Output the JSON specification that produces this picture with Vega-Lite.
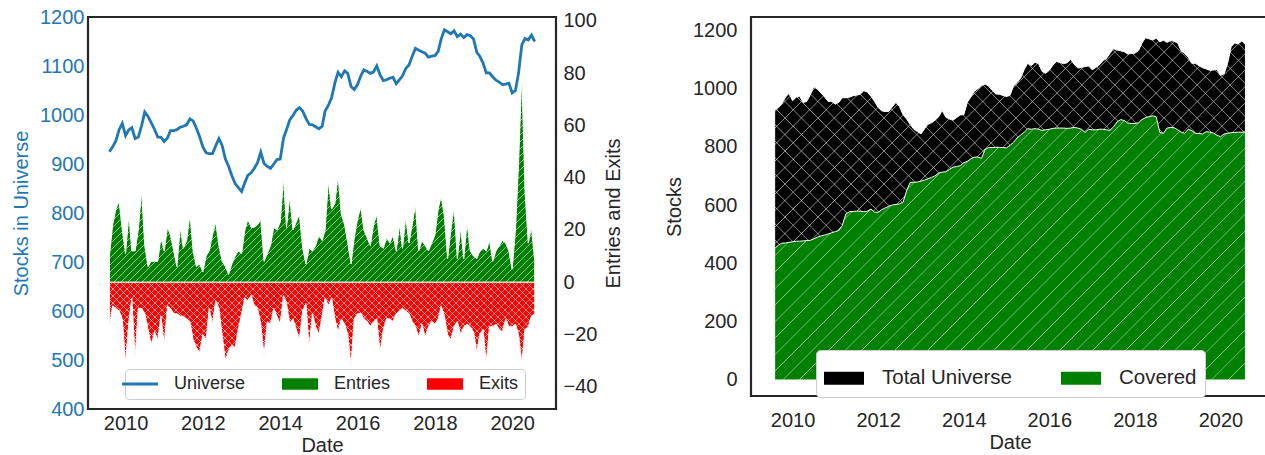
{
"$schema": "https://vega.github.io/schema/vega-lite/v6.json",
"padding": {"left": 10, "top": 5, "right": 0, "bottom": 0},
"background": "white",
"data": {"values": [
{"date":"2009-08-01","universe":925,"entries":10,"exits":-17,"covered":451},
{"date":"2009-09-01","universe":935,"entries":22,"exits":-9,"covered":462},
{"date":"2009-10-01","universe":947,"entries":28,"exits":-10,"covered":469},
{"date":"2009-11-01","universe":970,"entries":31,"exits":-11,"covered":470},
{"date":"2009-12-01","universe":983,"entries":20,"exits":-14,"covered":472},
{"date":"2010-01-01","universe":958,"entries":11,"exits":-31,"covered":474},
{"date":"2010-02-01","universe":970,"entries":26,"exits":-15,"covered":476},
{"date":"2010-03-01","universe":974,"entries":12,"exits":-6,"covered":476},
{"date":"2010-04-01","universe":952,"entries":12,"exits":-29,"covered":477},
{"date":"2010-05-01","universe":955,"entries":20,"exits":-10,"covered":478},
{"date":"2010-06-01","universe":978,"entries":35,"exits":-10,"covered":479},
{"date":"2010-07-01","universe":1006,"entries":14,"exits":-12,"covered":484},
{"date":"2010-08-01","universe":997,"entries":6,"exits":-18,"covered":490},
{"date":"2010-09-01","universe":984,"entries":8,"exits":-24,"covered":494},
{"date":"2010-10-01","universe":971,"entries":8,"exits":-19,"covered":497},
{"date":"2010-11-01","universe":955,"entries":8,"exits":-22,"covered":501},
{"date":"2010-12-01","universe":955,"entries":17,"exits":-13,"covered":505},
{"date":"2011-01-01","universe":946,"entries":12,"exits":-24,"covered":509},
{"date":"2011-02-01","universe":953,"entries":21,"exits":-9,"covered":513},
{"date":"2011-03-01","universe":968,"entries":18,"exits":-10,"covered":530},
{"date":"2011-04-01","universe":968,"entries":12,"exits":-12,"covered":570},
{"date":"2011-05-01","universe":970,"entries":6,"exits":-12,"covered":577},
{"date":"2011-06-01","universe":975,"entries":21,"exits":-13,"covered":578},
{"date":"2011-07-01","universe":977,"entries":13,"exits":-13,"covered":579},
{"date":"2011-08-01","universe":980,"entries":16,"exits":-14,"covered":579},
{"date":"2011-09-01","universe":992,"entries":26,"exits":-15,"covered":577},
{"date":"2011-10-01","universe":988,"entries":12,"exits":-22,"covered":579},
{"date":"2011-11-01","universe":973,"entries":6,"exits":-25,"covered":586},
{"date":"2011-12-01","universe":956,"entries":7,"exits":-27,"covered":576},
{"date":"2012-01-01","universe":935,"entries":4,"exits":-20,"covered":575},
{"date":"2012-02-01","universe":923,"entries":10,"exits":-22,"covered":584},
{"date":"2012-03-01","universe":921,"entries":12,"exits":-10,"covered":590},
{"date":"2012-04-01","universe":921,"entries":18,"exits":-16,"covered":596},
{"date":"2012-05-01","universe":937,"entries":23,"exits":-7,"covered":600},
{"date":"2012-06-01","universe":952,"entries":14,"exits":-10,"covered":602},
{"date":"2012-07-01","universe":938,"entries":8,"exits":-20,"covered":604},
{"date":"2012-08-01","universe":910,"entries":6,"exits":-30,"covered":610},
{"date":"2012-09-01","universe":895,"entries":3,"exits":-26,"covered":650},
{"date":"2012-10-01","universe":876,"entries":7,"exits":-24,"covered":678},
{"date":"2012-11-01","universe":860,"entries":10,"exits":-25,"covered":678},
{"date":"2012-12-01","universe":852,"entries":12,"exits":-18,"covered":679},
{"date":"2013-01-01","universe":844,"entries":11,"exits":-12,"covered":682},
{"date":"2013-02-01","universe":862,"entries":20,"exits":-6,"covered":686},
{"date":"2013-03-01","universe":877,"entries":24,"exits":-7,"covered":690},
{"date":"2013-04-01","universe":882,"entries":21,"exits":-5,"covered":695},
{"date":"2013-05-01","universe":891,"entries":21,"exits":-9,"covered":700},
{"date":"2013-06-01","universe":903,"entries":22,"exits":-10,"covered":710},
{"date":"2013-07-01","universe":924,"entries":24,"exits":-16,"covered":713},
{"date":"2013-08-01","universe":901,"entries":8,"exits":-28,"covered":714},
{"date":"2013-09-01","universe":895,"entries":11,"exits":-15,"covered":722},
{"date":"2013-10-01","universe":891,"entries":14,"exits":-16,"covered":730},
{"date":"2013-11-01","universe":900,"entries":21,"exits":-10,"covered":732},
{"date":"2013-12-01","universe":909,"entries":20,"exits":-13,"covered":735},
{"date":"2014-01-01","universe":910,"entries":23,"exits":-16,"covered":745},
{"date":"2014-02-01","universe":953,"entries":40,"exits":-5,"covered":750},
{"date":"2014-03-01","universe":970,"entries":21,"exits":-8,"covered":758},
{"date":"2014-04-01","universe":990,"entries":33,"exits":-16,"covered":764},
{"date":"2014-05-01","universe":999,"entries":20,"exits":-14,"covered":765},
{"date":"2014-06-01","universe":1010,"entries":23,"exits":-18,"covered":760},
{"date":"2014-07-01","universe":1015,"entries":26,"exits":-22,"covered":790},
{"date":"2014-08-01","universe":1008,"entries":13,"exits":-11,"covered":797},
{"date":"2014-09-01","universe":993,"entries":7,"exits":-8,"covered":797},
{"date":"2014-10-01","universe":981,"entries":13,"exits":-25,"covered":798},
{"date":"2014-11-01","universe":980,"entries":12,"exits":-12,"covered":798},
{"date":"2014-12-01","universe":976,"entries":14,"exits":-17,"covered":797},
{"date":"2015-01-01","universe":972,"entries":18,"exits":-20,"covered":796},
{"date":"2015-02-01","universe":977,"entries":16,"exits":-13,"covered":805},
{"date":"2015-03-01","universe":1008,"entries":20,"exits":-6,"covered":815},
{"date":"2015-04-01","universe":1020,"entries":39,"exits":-9,"covered":830},
{"date":"2015-05-01","universe":1035,"entries":28,"exits":-6,"covered":840},
{"date":"2015-06-01","universe":1065,"entries":30,"exits":-14,"covered":850},
{"date":"2015-07-01","universe":1087,"entries":41,"exits":-19,"covered":862},
{"date":"2015-08-01","universe":1078,"entries":26,"exits":-14,"covered":860},
{"date":"2015-09-01","universe":1090,"entries":22,"exits":-16,"covered":862},
{"date":"2015-10-01","universe":1085,"entries":15,"exits":-20,"covered":860},
{"date":"2015-11-01","universe":1058,"entries":7,"exits":-32,"covered":856},
{"date":"2015-12-01","universe":1052,"entries":17,"exits":-14,"covered":858},
{"date":"2016-01-01","universe":1062,"entries":24,"exits":-12,"covered":860},
{"date":"2016-02-01","universe":1080,"entries":29,"exits":-12,"covered":863},
{"date":"2016-03-01","universe":1092,"entries":20,"exits":-14,"covered":864},
{"date":"2016-04-01","universe":1089,"entries":17,"exits":-15,"covered":864},
{"date":"2016-05-01","universe":1085,"entries":14,"exits":-17,"covered":864},
{"date":"2016-06-01","universe":1088,"entries":22,"exits":-15,"covered":863},
{"date":"2016-07-01","universe":1100,"entries":26,"exits":-14,"covered":864},
{"date":"2016-08-01","universe":1082,"entries":14,"exits":-27,"covered":866},
{"date":"2016-09-01","universe":1070,"entries":13,"exits":-18,"covered":864},
{"date":"2016-10-01","universe":1072,"entries":17,"exits":-14,"covered":860},
{"date":"2016-11-01","universe":1075,"entries":15,"exits":-14,"covered":849},
{"date":"2016-12-01","universe":1077,"entries":18,"exits":-15,"covered":860},
{"date":"2017-01-01","universe":1064,"entries":12,"exits":-12,"covered":858},
{"date":"2017-02-01","universe":1072,"entries":22,"exits":-11,"covered":858},
{"date":"2017-03-01","universe":1080,"entries":13,"exits":-10,"covered":860},
{"date":"2017-04-01","universe":1095,"entries":25,"exits":-11,"covered":860},
{"date":"2017-05-01","universe":1102,"entries":15,"exits":-12,"covered":858},
{"date":"2017-06-01","universe":1120,"entries":22,"exits":-15,"covered":856},
{"date":"2017-07-01","universe":1136,"entries":30,"exits":-17,"covered":868},
{"date":"2017-08-01","universe":1132,"entries":12,"exits":-21,"covered":885},
{"date":"2017-09-01","universe":1129,"entries":16,"exits":-16,"covered":893},
{"date":"2017-10-01","universe":1126,"entries":14,"exits":-21,"covered":890},
{"date":"2017-11-01","universe":1118,"entries":12,"exits":-17,"covered":881},
{"date":"2017-12-01","universe":1120,"entries":15,"exits":-15,"covered":880},
{"date":"2018-01-01","universe":1121,"entries":18,"exits":-16,"covered":880},
{"date":"2018-02-01","universe":1130,"entries":28,"exits":-14,"covered":882},
{"date":"2018-03-01","universe":1155,"entries":33,"exits":-9,"covered":893},
{"date":"2018-04-01","universe":1174,"entries":25,"exits":-13,"covered":900},
{"date":"2018-05-01","universe":1170,"entries":9,"exits":-20,"covered":903},
{"date":"2018-06-01","universe":1166,"entries":20,"exits":-22,"covered":906},
{"date":"2018-07-01","universe":1172,"entries":29,"exits":-17,"covered":903},
{"date":"2018-08-01","universe":1160,"entries":9,"exits":-15,"covered":849},
{"date":"2018-09-01","universe":1165,"entries":21,"exits":-20,"covered":846},
{"date":"2018-10-01","universe":1158,"entries":9,"exits":-17,"covered":864},
{"date":"2018-11-01","universe":1164,"entries":23,"exits":-16,"covered":866},
{"date":"2018-12-01","universe":1162,"entries":12,"exits":-17,"covered":865},
{"date":"2019-01-01","universe":1155,"entries":10,"exits":-19,"covered":858},
{"date":"2019-02-01","universe":1128,"entries":9,"exits":-27,"covered":850},
{"date":"2019-03-01","universe":1120,"entries":12,"exits":-20,"covered":846},
{"date":"2019-04-01","universe":1106,"entries":13,"exits":-18,"covered":860},
{"date":"2019-05-01","universe":1086,"entries":12,"exits":-31,"covered":855},
{"date":"2019-06-01","universe":1086,"entries":16,"exits":-17,"covered":846},
{"date":"2019-07-01","universe":1078,"entries":8,"exits":-17,"covered":845},
{"date":"2019-08-01","universe":1071,"entries":12,"exits":-16,"covered":844},
{"date":"2019-09-01","universe":1067,"entries":14,"exits":-18,"covered":852},
{"date":"2019-10-01","universe":1062,"entries":16,"exits":-19,"covered":850},
{"date":"2019-11-01","universe":1063,"entries":15,"exits":-14,"covered":847},
{"date":"2019-12-01","universe":1065,"entries":12,"exits":-17,"covered":840},
{"date":"2020-01-01","universe":1045,"entries":5,"exits":-17,"covered":834},
{"date":"2020-02-01","universe":1050,"entries":20,"exits":-16,"covered":844},
{"date":"2020-03-01","universe":1085,"entries":45,"exits":-20,"covered":846},
{"date":"2020-04-01","universe":1143,"entries":80,"exits":-31,"covered":848},
{"date":"2020-05-01","universe":1156,"entries":35,"exits":-18,"covered":849},
{"date":"2020-06-01","universe":1153,"entries":15,"exits":-17,"covered":850},
{"date":"2020-07-01","universe":1163,"entries":21,"exits":-13,"covered":850},
{"date":"2020-08-01","universe":1150,"entries":8,"exits":-12,"covered":851}
]},
"spacing": 37,
"hconcat": [
{
 "width": 468, "height": 392,
 "layer": [
  {"layer": [
   {"mark": {"type": "area", "stroke": "white", "strokeWidth": 1, "opacity": 1},
    "encoding": {
     "x": {"field": "date", "type": "temporal", "scale": {"domain": ["2009-01-11", "2021-02-18"]}, "axis": {"values": ["2010-01-01", "2012-01-01", "2014-01-01", "2016-01-01", "2018-01-01", "2020-01-01"], "format": "%Y", "title": "Date", "labelPadding": 4, "titlePadding": 2}},
     "y": {"field": "entries", "type": "quantitative", "stack": null, "scale": {"domain": [-48.5, 101.5], "nice": false, "zero": false}, "axis": {"orient": "right", "title": "Entries and Exits", "format": "d", "values": [-40, -20, 0, 20, 40, 60, 80, 100], "labelPadding": 7, "titlePadding": 7, "titleAngle": 270, "titleBaseline": "top"}},
     "color": {"datum": "Entries", "type": "nominal", "scale": {"domain": ["Universe", "Entries", "Exits"], "range": ["#1f77b4", "#008000", "#ff0000"]},
      "legend": {"title": null, "orient": "none", "legendX": 37, "legendY": 352, "direction": "horizontal", "columns": 3, "labelFontSize": 18, "symbolType": "M-1,-0.32H1V0.32H-1Z", "symbolSize": 1296, "labelOffset": 25, "columnPadding": 36, "padding": 6, "fillColor": "white", "strokeColor": "#cccccc", "cornerRadius": 4, "labelColor": "#262626", "symbolStrokeWidth": 0, "symbolOpacity": 1,
       "encoding": {"symbols": {
        "shape": {"value": {"expr": "datum.value === 'Universe' ? 'stroke' : 'M-1,-0.32H1V0.32H-1Z'"}},
        "fill": {"value": {"expr": "datum.value === 'Universe' ? 'transparent' : (datum.value === 'Entries' ? '#008000' : '#ff0000')"}},
        "stroke": {"value": {"expr": "datum.value === 'Universe' ? '#1f77b4' : 'transparent'"}},
        "strokeWidth": {"value": {"expr": "datum.value === 'Universe' ? 3 : 0"}}
       }}}}
    }},
   {"mark": {"type": "area", "strokeWidth": 0, "opacity": 1,
     "fill": {"gradient": "linear", "x1": 0, "y1": 0, "x2": 1.2013, "y2": 0.5906, "stops": [
{"offset":0.0043,"color":"#fff0"},{"offset":0.0055,"color":"#fff9"},{"offset":0.0067,"color":"#fff0"},
{"offset":0.0154,"color":"#fff0"},{"offset":0.0166,"color":"#fff9"},{"offset":0.0178,"color":"#fff0"},
{"offset":0.0264,"color":"#fff0"},{"offset":0.0276,"color":"#fff9"},{"offset":0.0288,"color":"#fff0"},
{"offset":0.0374,"color":"#fff0"},{"offset":0.0386,"color":"#fff9"},{"offset":0.0398,"color":"#fff0"},
{"offset":0.0485,"color":"#fff0"},{"offset":0.0497,"color":"#fff9"},{"offset":0.0509,"color":"#fff0"},
{"offset":0.0595,"color":"#fff0"},{"offset":0.0607,"color":"#fff9"},{"offset":0.0619,"color":"#fff0"},
{"offset":0.0705,"color":"#fff0"},{"offset":0.0717,"color":"#fff9"},{"offset":0.0729,"color":"#fff0"},
{"offset":0.0816,"color":"#fff0"},{"offset":0.0828,"color":"#fff9"},{"offset":0.0840,"color":"#fff0"},
{"offset":0.0926,"color":"#fff0"},{"offset":0.0938,"color":"#fff9"},{"offset":0.0950,"color":"#fff0"},
{"offset":0.1036,"color":"#fff0"},{"offset":0.1048,"color":"#fff9"},{"offset":0.1060,"color":"#fff0"},
{"offset":0.1147,"color":"#fff0"},{"offset":0.1159,"color":"#fff9"},{"offset":0.1171,"color":"#fff0"},
{"offset":0.1257,"color":"#fff0"},{"offset":0.1269,"color":"#fff9"},{"offset":0.1281,"color":"#fff0"},
{"offset":0.1367,"color":"#fff0"},{"offset":0.1379,"color":"#fff9"},{"offset":0.1391,"color":"#fff0"},
{"offset":0.1478,"color":"#fff0"},{"offset":0.1490,"color":"#fff9"},{"offset":0.1502,"color":"#fff0"},
{"offset":0.1588,"color":"#fff0"},{"offset":0.1600,"color":"#fff9"},{"offset":0.1612,"color":"#fff0"},
{"offset":0.1698,"color":"#fff0"},{"offset":0.1710,"color":"#fff9"},{"offset":0.1722,"color":"#fff0"},
{"offset":0.1809,"color":"#fff0"},{"offset":0.1821,"color":"#fff9"},{"offset":0.1833,"color":"#fff0"},
{"offset":0.1919,"color":"#fff0"},{"offset":0.1931,"color":"#fff9"},{"offset":0.1943,"color":"#fff0"},
{"offset":0.2029,"color":"#fff0"},{"offset":0.2041,"color":"#fff9"},{"offset":0.2053,"color":"#fff0"},
{"offset":0.2140,"color":"#fff0"},{"offset":0.2152,"color":"#fff9"},{"offset":0.2164,"color":"#fff0"},
{"offset":0.2250,"color":"#fff0"},{"offset":0.2262,"color":"#fff9"},{"offset":0.2274,"color":"#fff0"},
{"offset":0.2360,"color":"#fff0"},{"offset":0.2372,"color":"#fff9"},{"offset":0.2384,"color":"#fff0"},
{"offset":0.2471,"color":"#fff0"},{"offset":0.2483,"color":"#fff9"},{"offset":0.2495,"color":"#fff0"},
{"offset":0.2581,"color":"#fff0"},{"offset":0.2593,"color":"#fff9"},{"offset":0.2605,"color":"#fff0"},
{"offset":0.2692,"color":"#fff0"},{"offset":0.2704,"color":"#fff9"},{"offset":0.2716,"color":"#fff0"},
{"offset":0.2802,"color":"#fff0"},{"offset":0.2814,"color":"#fff9"},{"offset":0.2826,"color":"#fff0"},
{"offset":0.2912,"color":"#fff0"},{"offset":0.2924,"color":"#fff9"},{"offset":0.2936,"color":"#fff0"},
{"offset":0.3023,"color":"#fff0"},{"offset":0.3035,"color":"#fff9"},{"offset":0.3047,"color":"#fff0"},
{"offset":0.3133,"color":"#fff0"},{"offset":0.3145,"color":"#fff9"},{"offset":0.3157,"color":"#fff0"},
{"offset":0.3243,"color":"#fff0"},{"offset":0.3255,"color":"#fff9"},{"offset":0.3267,"color":"#fff0"},
{"offset":0.3354,"color":"#fff0"},{"offset":0.3366,"color":"#fff9"},{"offset":0.3378,"color":"#fff0"},
{"offset":0.3464,"color":"#fff0"},{"offset":0.3476,"color":"#fff9"},{"offset":0.3488,"color":"#fff0"},
{"offset":0.3574,"color":"#fff0"},{"offset":0.3586,"color":"#fff9"},{"offset":0.3598,"color":"#fff0"},
{"offset":0.3685,"color":"#fff0"},{"offset":0.3697,"color":"#fff9"},{"offset":0.3709,"color":"#fff0"},
{"offset":0.3795,"color":"#fff0"},{"offset":0.3807,"color":"#fff9"},{"offset":0.3819,"color":"#fff0"},
{"offset":0.3905,"color":"#fff0"},{"offset":0.3917,"color":"#fff9"},{"offset":0.3929,"color":"#fff0"},
{"offset":0.4016,"color":"#fff0"},{"offset":0.4028,"color":"#fff9"},{"offset":0.4040,"color":"#fff0"},
{"offset":0.4126,"color":"#fff0"},{"offset":0.4138,"color":"#fff9"},{"offset":0.4150,"color":"#fff0"},
{"offset":0.4236,"color":"#fff0"},{"offset":0.4248,"color":"#fff9"},{"offset":0.4260,"color":"#fff0"},
{"offset":0.4347,"color":"#fff0"},{"offset":0.4359,"color":"#fff9"},{"offset":0.4371,"color":"#fff0"},
{"offset":0.4457,"color":"#fff0"},{"offset":0.4469,"color":"#fff9"},{"offset":0.4481,"color":"#fff0"},
{"offset":0.4567,"color":"#fff0"},{"offset":0.4579,"color":"#fff9"},{"offset":0.4591,"color":"#fff0"},
{"offset":0.4678,"color":"#fff0"},{"offset":0.4690,"color":"#fff9"},{"offset":0.4702,"color":"#fff0"},
{"offset":0.4788,"color":"#fff0"},{"offset":0.4800,"color":"#fff9"},{"offset":0.4812,"color":"#fff0"},
{"offset":0.4898,"color":"#fff0"},{"offset":0.4910,"color":"#fff9"},{"offset":0.4922,"color":"#fff0"},
{"offset":0.5009,"color":"#fff0"},{"offset":0.5021,"color":"#fff9"},{"offset":0.5033,"color":"#fff0"},
{"offset":0.5119,"color":"#fff0"},{"offset":0.5131,"color":"#fff9"},{"offset":0.5143,"color":"#fff0"},
{"offset":0.5229,"color":"#fff0"},{"offset":0.5241,"color":"#fff9"},{"offset":0.5253,"color":"#fff0"},
{"offset":0.5340,"color":"#fff0"},{"offset":0.5352,"color":"#fff9"},{"offset":0.5364,"color":"#fff0"},
{"offset":0.5450,"color":"#fff0"},{"offset":0.5462,"color":"#fff9"},{"offset":0.5474,"color":"#fff0"},
{"offset":0.5560,"color":"#fff0"},{"offset":0.5572,"color":"#fff9"},{"offset":0.5584,"color":"#fff0"},
{"offset":0.5671,"color":"#fff0"},{"offset":0.5683,"color":"#fff9"},{"offset":0.5695,"color":"#fff0"},
{"offset":0.5781,"color":"#fff0"},{"offset":0.5793,"color":"#fff9"},{"offset":0.5805,"color":"#fff0"},
{"offset":0.5891,"color":"#fff0"},{"offset":0.5903,"color":"#fff9"},{"offset":0.5915,"color":"#fff0"},
{"offset":0.6002,"color":"#fff0"},{"offset":0.6014,"color":"#fff9"},{"offset":0.6026,"color":"#fff0"},
{"offset":0.6112,"color":"#fff0"},{"offset":0.6124,"color":"#fff9"},{"offset":0.6136,"color":"#fff0"},
{"offset":0.6222,"color":"#fff0"},{"offset":0.6234,"color":"#fff9"},{"offset":0.6246,"color":"#fff0"},
{"offset":0.6333,"color":"#fff0"},{"offset":0.6345,"color":"#fff9"},{"offset":0.6357,"color":"#fff0"},
{"offset":0.6443,"color":"#fff0"},{"offset":0.6455,"color":"#fff9"},{"offset":0.6467,"color":"#fff0"},
{"offset":0.6553,"color":"#fff0"},{"offset":0.6565,"color":"#fff9"},{"offset":0.6577,"color":"#fff0"},
{"offset":0.6664,"color":"#fff0"},{"offset":0.6676,"color":"#fff9"},{"offset":0.6688,"color":"#fff0"},
{"offset":0.6774,"color":"#fff0"},{"offset":0.6786,"color":"#fff9"},{"offset":0.6798,"color":"#fff0"},
{"offset":0.6884,"color":"#fff0"},{"offset":0.6896,"color":"#fff9"},{"offset":0.6908,"color":"#fff0"},
{"offset":0.6995,"color":"#fff0"},{"offset":0.7007,"color":"#fff9"},{"offset":0.7019,"color":"#fff0"},
{"offset":0.7105,"color":"#fff0"},{"offset":0.7117,"color":"#fff9"},{"offset":0.7129,"color":"#fff0"},
{"offset":0.7215,"color":"#fff0"},{"offset":0.7227,"color":"#fff9"},{"offset":0.7239,"color":"#fff0"},
{"offset":0.7326,"color":"#fff0"},{"offset":0.7338,"color":"#fff9"},{"offset":0.7350,"color":"#fff0"},
{"offset":0.7436,"color":"#fff0"},{"offset":0.7448,"color":"#fff9"},{"offset":0.7460,"color":"#fff0"},
{"offset":0.7546,"color":"#fff0"},{"offset":0.7558,"color":"#fff9"},{"offset":0.7570,"color":"#fff0"},
{"offset":0.7657,"color":"#fff0"},{"offset":0.7669,"color":"#fff9"},{"offset":0.7681,"color":"#fff0"},
{"offset":0.7767,"color":"#fff0"},{"offset":0.7779,"color":"#fff9"},{"offset":0.7791,"color":"#fff0"},
{"offset":0.7877,"color":"#fff0"},{"offset":0.7889,"color":"#fff9"},{"offset":0.7901,"color":"#fff0"},
{"offset":0.7988,"color":"#fff0"},{"offset":0.8000,"color":"#fff9"},{"offset":0.8012,"color":"#fff0"},
{"offset":0.8098,"color":"#fff0"},{"offset":0.8110,"color":"#fff9"},{"offset":0.8122,"color":"#fff0"},
{"offset":0.8208,"color":"#fff0"},{"offset":0.8220,"color":"#fff9"},{"offset":0.8232,"color":"#fff0"},
{"offset":0.8319,"color":"#fff0"},{"offset":0.8331,"color":"#fff9"},{"offset":0.8343,"color":"#fff0"},
{"offset":0.8429,"color":"#fff0"},{"offset":0.8441,"color":"#fff9"},{"offset":0.8453,"color":"#fff0"},
{"offset":0.8539,"color":"#fff0"},{"offset":0.8551,"color":"#fff9"},{"offset":0.8563,"color":"#fff0"},
{"offset":0.8650,"color":"#fff0"},{"offset":0.8662,"color":"#fff9"},{"offset":0.8674,"color":"#fff0"},
{"offset":0.8760,"color":"#fff0"},{"offset":0.8772,"color":"#fff9"},{"offset":0.8784,"color":"#fff0"},
{"offset":0.8870,"color":"#fff0"},{"offset":0.8882,"color":"#fff9"},{"offset":0.8894,"color":"#fff0"},
{"offset":0.8981,"color":"#fff0"},{"offset":0.8993,"color":"#fff9"},{"offset":0.9005,"color":"#fff0"},
{"offset":0.9091,"color":"#fff0"},{"offset":0.9103,"color":"#fff9"},{"offset":0.9115,"color":"#fff0"},
{"offset":0.9201,"color":"#fff0"},{"offset":0.9213,"color":"#fff9"},{"offset":0.9225,"color":"#fff0"},
{"offset":0.9312,"color":"#fff0"},{"offset":0.9324,"color":"#fff9"},{"offset":0.9336,"color":"#fff0"},
{"offset":0.9422,"color":"#fff0"},{"offset":0.9434,"color":"#fff9"},{"offset":0.9446,"color":"#fff0"},
{"offset":0.9533,"color":"#fff0"},{"offset":0.9545,"color":"#fff9"},{"offset":0.9557,"color":"#fff0"},
{"offset":0.9643,"color":"#fff0"},{"offset":0.9655,"color":"#fff9"},{"offset":0.9667,"color":"#fff0"},
{"offset":0.9753,"color":"#fff0"},{"offset":0.9765,"color":"#fff9"},{"offset":0.9777,"color":"#fff0"},
{"offset":0.9864,"color":"#fff0"},{"offset":0.9876,"color":"#fff9"},{"offset":0.9888,"color":"#fff0"}
     ]}},
    "encoding": {
     "x": {"field": "date", "type": "temporal"},
     "y": {"field": "entries", "type": "quantitative", "stack": null}
    }},
   {"mark": {"type": "area", "stroke": "white", "strokeWidth": 1, "opacity": 1},
    "encoding": {
     "x": {"field": "date", "type": "temporal"},
     "y": {"field": "exits", "type": "quantitative", "stack": null},
     "color": {"datum": "Exits", "type": "nominal"}
    }},
   {"mark": {"type": "area", "strokeWidth": 0, "opacity": 1,
     "fill": {"gradient": "linear", "x1": 0, "y1": 0, "x2": 1.1521, "y2": 0.2265, "stops": [
{"offset":0.0054,"color":"#fff0"},{"offset":0.0069,"color":"#fffa"},{"offset":0.0084,"color":"#fff0"},
{"offset":0.0191,"color":"#fff0"},{"offset":0.0206,"color":"#fffa"},{"offset":0.0221,"color":"#fff0"},
{"offset":0.0329,"color":"#fff0"},{"offset":0.0344,"color":"#fffa"},{"offset":0.0359,"color":"#fff0"},
{"offset":0.0466,"color":"#fff0"},{"offset":0.0481,"color":"#fffa"},{"offset":0.0496,"color":"#fff0"},
{"offset":0.0604,"color":"#fff0"},{"offset":0.0619,"color":"#fffa"},{"offset":0.0634,"color":"#fff0"},
{"offset":0.0742,"color":"#fff0"},{"offset":0.0757,"color":"#fffa"},{"offset":0.0772,"color":"#fff0"},
{"offset":0.0879,"color":"#fff0"},{"offset":0.0894,"color":"#fffa"},{"offset":0.0909,"color":"#fff0"},
{"offset":0.1017,"color":"#fff0"},{"offset":0.1032,"color":"#fffa"},{"offset":0.1047,"color":"#fff0"},
{"offset":0.1154,"color":"#fff0"},{"offset":0.1169,"color":"#fffa"},{"offset":0.1184,"color":"#fff0"},
{"offset":0.1292,"color":"#fff0"},{"offset":0.1307,"color":"#fffa"},{"offset":0.1322,"color":"#fff0"},
{"offset":0.1429,"color":"#fff0"},{"offset":0.1444,"color":"#fffa"},{"offset":0.1459,"color":"#fff0"},
{"offset":0.1567,"color":"#fff0"},{"offset":0.1582,"color":"#fffa"},{"offset":0.1597,"color":"#fff0"},
{"offset":0.1704,"color":"#fff0"},{"offset":0.1719,"color":"#fffa"},{"offset":0.1734,"color":"#fff0"},
{"offset":0.1842,"color":"#fff0"},{"offset":0.1857,"color":"#fffa"},{"offset":0.1872,"color":"#fff0"},
{"offset":0.1980,"color":"#fff0"},{"offset":0.1995,"color":"#fffa"},{"offset":0.2010,"color":"#fff0"},
{"offset":0.2117,"color":"#fff0"},{"offset":0.2132,"color":"#fffa"},{"offset":0.2147,"color":"#fff0"},
{"offset":0.2255,"color":"#fff0"},{"offset":0.2270,"color":"#fffa"},{"offset":0.2285,"color":"#fff0"},
{"offset":0.2392,"color":"#fff0"},{"offset":0.2407,"color":"#fffa"},{"offset":0.2422,"color":"#fff0"},
{"offset":0.2530,"color":"#fff0"},{"offset":0.2545,"color":"#fffa"},{"offset":0.2560,"color":"#fff0"},
{"offset":0.2667,"color":"#fff0"},{"offset":0.2682,"color":"#fffa"},{"offset":0.2697,"color":"#fff0"},
{"offset":0.2805,"color":"#fff0"},{"offset":0.2820,"color":"#fffa"},{"offset":0.2835,"color":"#fff0"},
{"offset":0.2942,"color":"#fff0"},{"offset":0.2957,"color":"#fffa"},{"offset":0.2972,"color":"#fff0"},
{"offset":0.3080,"color":"#fff0"},{"offset":0.3095,"color":"#fffa"},{"offset":0.3110,"color":"#fff0"},
{"offset":0.3218,"color":"#fff0"},{"offset":0.3233,"color":"#fffa"},{"offset":0.3248,"color":"#fff0"},
{"offset":0.3355,"color":"#fff0"},{"offset":0.3370,"color":"#fffa"},{"offset":0.3385,"color":"#fff0"},
{"offset":0.3493,"color":"#fff0"},{"offset":0.3508,"color":"#fffa"},{"offset":0.3523,"color":"#fff0"},
{"offset":0.3630,"color":"#fff0"},{"offset":0.3645,"color":"#fffa"},{"offset":0.3660,"color":"#fff0"},
{"offset":0.3768,"color":"#fff0"},{"offset":0.3783,"color":"#fffa"},{"offset":0.3798,"color":"#fff0"},
{"offset":0.3905,"color":"#fff0"},{"offset":0.3920,"color":"#fffa"},{"offset":0.3935,"color":"#fff0"},
{"offset":0.4043,"color":"#fff0"},{"offset":0.4058,"color":"#fffa"},{"offset":0.4073,"color":"#fff0"},
{"offset":0.4180,"color":"#fff0"},{"offset":0.4195,"color":"#fffa"},{"offset":0.4210,"color":"#fff0"},
{"offset":0.4318,"color":"#fff0"},{"offset":0.4333,"color":"#fffa"},{"offset":0.4348,"color":"#fff0"},
{"offset":0.4455,"color":"#fff0"},{"offset":0.4470,"color":"#fffa"},{"offset":0.4485,"color":"#fff0"},
{"offset":0.4593,"color":"#fff0"},{"offset":0.4608,"color":"#fffa"},{"offset":0.4623,"color":"#fff0"},
{"offset":0.4731,"color":"#fff0"},{"offset":0.4746,"color":"#fffa"},{"offset":0.4761,"color":"#fff0"},
{"offset":0.4868,"color":"#fff0"},{"offset":0.4883,"color":"#fffa"},{"offset":0.4898,"color":"#fff0"},
{"offset":0.5006,"color":"#fff0"},{"offset":0.5021,"color":"#fffa"},{"offset":0.5036,"color":"#fff0"},
{"offset":0.5143,"color":"#fff0"},{"offset":0.5158,"color":"#fffa"},{"offset":0.5173,"color":"#fff0"},
{"offset":0.5281,"color":"#fff0"},{"offset":0.5296,"color":"#fffa"},{"offset":0.5311,"color":"#fff0"},
{"offset":0.5418,"color":"#fff0"},{"offset":0.5433,"color":"#fffa"},{"offset":0.5448,"color":"#fff0"},
{"offset":0.5556,"color":"#fff0"},{"offset":0.5571,"color":"#fffa"},{"offset":0.5586,"color":"#fff0"},
{"offset":0.5693,"color":"#fff0"},{"offset":0.5708,"color":"#fffa"},{"offset":0.5723,"color":"#fff0"},
{"offset":0.5831,"color":"#fff0"},{"offset":0.5846,"color":"#fffa"},{"offset":0.5861,"color":"#fff0"},
{"offset":0.5969,"color":"#fff0"},{"offset":0.5984,"color":"#fffa"},{"offset":0.5999,"color":"#fff0"},
{"offset":0.6106,"color":"#fff0"},{"offset":0.6121,"color":"#fffa"},{"offset":0.6136,"color":"#fff0"},
{"offset":0.6244,"color":"#fff0"},{"offset":0.6259,"color":"#fffa"},{"offset":0.6274,"color":"#fff0"},
{"offset":0.6381,"color":"#fff0"},{"offset":0.6396,"color":"#fffa"},{"offset":0.6411,"color":"#fff0"},
{"offset":0.6519,"color":"#fff0"},{"offset":0.6534,"color":"#fffa"},{"offset":0.6549,"color":"#fff0"},
{"offset":0.6656,"color":"#fff0"},{"offset":0.6671,"color":"#fffa"},{"offset":0.6686,"color":"#fff0"},
{"offset":0.6794,"color":"#fff0"},{"offset":0.6809,"color":"#fffa"},{"offset":0.6824,"color":"#fff0"},
{"offset":0.6931,"color":"#fff0"},{"offset":0.6946,"color":"#fffa"},{"offset":0.6961,"color":"#fff0"},
{"offset":0.7069,"color":"#fff0"},{"offset":0.7084,"color":"#fffa"},{"offset":0.7099,"color":"#fff0"},
{"offset":0.7206,"color":"#fff0"},{"offset":0.7221,"color":"#fffa"},{"offset":0.7236,"color":"#fff0"},
{"offset":0.7344,"color":"#fff0"},{"offset":0.7359,"color":"#fffa"},{"offset":0.7374,"color":"#fff0"},
{"offset":0.7482,"color":"#fff0"},{"offset":0.7497,"color":"#fffa"},{"offset":0.7512,"color":"#fff0"},
{"offset":0.7619,"color":"#fff0"},{"offset":0.7634,"color":"#fffa"},{"offset":0.7649,"color":"#fff0"},
{"offset":0.7757,"color":"#fff0"},{"offset":0.7772,"color":"#fffa"},{"offset":0.7787,"color":"#fff0"},
{"offset":0.7894,"color":"#fff0"},{"offset":0.7909,"color":"#fffa"},{"offset":0.7924,"color":"#fff0"},
{"offset":0.8032,"color":"#fff0"},{"offset":0.8047,"color":"#fffa"},{"offset":0.8062,"color":"#fff0"},
{"offset":0.8169,"color":"#fff0"},{"offset":0.8184,"color":"#fffa"},{"offset":0.8199,"color":"#fff0"},
{"offset":0.8307,"color":"#fff0"},{"offset":0.8322,"color":"#fffa"},{"offset":0.8337,"color":"#fff0"},
{"offset":0.8444,"color":"#fff0"},{"offset":0.8459,"color":"#fffa"},{"offset":0.8474,"color":"#fff0"},
{"offset":0.8582,"color":"#fff0"},{"offset":0.8597,"color":"#fffa"},{"offset":0.8612,"color":"#fff0"},
{"offset":0.8720,"color":"#fff0"},{"offset":0.8735,"color":"#fffa"},{"offset":0.8750,"color":"#fff0"},
{"offset":0.8857,"color":"#fff0"},{"offset":0.8872,"color":"#fffa"},{"offset":0.8887,"color":"#fff0"},
{"offset":0.8995,"color":"#fff0"},{"offset":0.9010,"color":"#fffa"},{"offset":0.9025,"color":"#fff0"},
{"offset":0.9132,"color":"#fff0"},{"offset":0.9147,"color":"#fffa"},{"offset":0.9162,"color":"#fff0"},
{"offset":0.9270,"color":"#fff0"},{"offset":0.9285,"color":"#fffa"},{"offset":0.9300,"color":"#fff0"},
{"offset":0.9407,"color":"#fff0"},{"offset":0.9422,"color":"#fffa"},{"offset":0.9437,"color":"#fff0"},
{"offset":0.9545,"color":"#fff0"},{"offset":0.9560,"color":"#fffa"},{"offset":0.9575,"color":"#fff0"},
{"offset":0.9682,"color":"#fff0"},{"offset":0.9697,"color":"#fffa"},{"offset":0.9712,"color":"#fff0"},
{"offset":0.9820,"color":"#fff0"},{"offset":0.9835,"color":"#fffa"},{"offset":0.9850,"color":"#fff0"},
{"offset":0.9957,"color":"#fff0"},{"offset":0.9972,"color":"#fffa"},{"offset":0.9987,"color":"#fff0"}
     ]}},
    "encoding": {
     "x": {"field": "date", "type": "temporal"},
     "y": {"field": "exits", "type": "quantitative", "stack": null}
    }},
   {"mark": {"type": "area", "strokeWidth": 0, "opacity": 1,
     "fill": {"gradient": "linear", "x1": 0, "y1": 1, "x2": 1.1521, "y2": 0.7735, "stops": [
{"offset":0.0054,"color":"#fff0"},{"offset":0.0069,"color":"#fffa"},{"offset":0.0084,"color":"#fff0"},
{"offset":0.0191,"color":"#fff0"},{"offset":0.0206,"color":"#fffa"},{"offset":0.0221,"color":"#fff0"},
{"offset":0.0329,"color":"#fff0"},{"offset":0.0344,"color":"#fffa"},{"offset":0.0359,"color":"#fff0"},
{"offset":0.0466,"color":"#fff0"},{"offset":0.0481,"color":"#fffa"},{"offset":0.0496,"color":"#fff0"},
{"offset":0.0604,"color":"#fff0"},{"offset":0.0619,"color":"#fffa"},{"offset":0.0634,"color":"#fff0"},
{"offset":0.0742,"color":"#fff0"},{"offset":0.0757,"color":"#fffa"},{"offset":0.0772,"color":"#fff0"},
{"offset":0.0879,"color":"#fff0"},{"offset":0.0894,"color":"#fffa"},{"offset":0.0909,"color":"#fff0"},
{"offset":0.1017,"color":"#fff0"},{"offset":0.1032,"color":"#fffa"},{"offset":0.1047,"color":"#fff0"},
{"offset":0.1154,"color":"#fff0"},{"offset":0.1169,"color":"#fffa"},{"offset":0.1184,"color":"#fff0"},
{"offset":0.1292,"color":"#fff0"},{"offset":0.1307,"color":"#fffa"},{"offset":0.1322,"color":"#fff0"},
{"offset":0.1429,"color":"#fff0"},{"offset":0.1444,"color":"#fffa"},{"offset":0.1459,"color":"#fff0"},
{"offset":0.1567,"color":"#fff0"},{"offset":0.1582,"color":"#fffa"},{"offset":0.1597,"color":"#fff0"},
{"offset":0.1704,"color":"#fff0"},{"offset":0.1719,"color":"#fffa"},{"offset":0.1734,"color":"#fff0"},
{"offset":0.1842,"color":"#fff0"},{"offset":0.1857,"color":"#fffa"},{"offset":0.1872,"color":"#fff0"},
{"offset":0.1980,"color":"#fff0"},{"offset":0.1995,"color":"#fffa"},{"offset":0.2010,"color":"#fff0"},
{"offset":0.2117,"color":"#fff0"},{"offset":0.2132,"color":"#fffa"},{"offset":0.2147,"color":"#fff0"},
{"offset":0.2255,"color":"#fff0"},{"offset":0.2270,"color":"#fffa"},{"offset":0.2285,"color":"#fff0"},
{"offset":0.2392,"color":"#fff0"},{"offset":0.2407,"color":"#fffa"},{"offset":0.2422,"color":"#fff0"},
{"offset":0.2530,"color":"#fff0"},{"offset":0.2545,"color":"#fffa"},{"offset":0.2560,"color":"#fff0"},
{"offset":0.2667,"color":"#fff0"},{"offset":0.2682,"color":"#fffa"},{"offset":0.2697,"color":"#fff0"},
{"offset":0.2805,"color":"#fff0"},{"offset":0.2820,"color":"#fffa"},{"offset":0.2835,"color":"#fff0"},
{"offset":0.2942,"color":"#fff0"},{"offset":0.2957,"color":"#fffa"},{"offset":0.2972,"color":"#fff0"},
{"offset":0.3080,"color":"#fff0"},{"offset":0.3095,"color":"#fffa"},{"offset":0.3110,"color":"#fff0"},
{"offset":0.3218,"color":"#fff0"},{"offset":0.3233,"color":"#fffa"},{"offset":0.3248,"color":"#fff0"},
{"offset":0.3355,"color":"#fff0"},{"offset":0.3370,"color":"#fffa"},{"offset":0.3385,"color":"#fff0"},
{"offset":0.3493,"color":"#fff0"},{"offset":0.3508,"color":"#fffa"},{"offset":0.3523,"color":"#fff0"},
{"offset":0.3630,"color":"#fff0"},{"offset":0.3645,"color":"#fffa"},{"offset":0.3660,"color":"#fff0"},
{"offset":0.3768,"color":"#fff0"},{"offset":0.3783,"color":"#fffa"},{"offset":0.3798,"color":"#fff0"},
{"offset":0.3905,"color":"#fff0"},{"offset":0.3920,"color":"#fffa"},{"offset":0.3935,"color":"#fff0"},
{"offset":0.4043,"color":"#fff0"},{"offset":0.4058,"color":"#fffa"},{"offset":0.4073,"color":"#fff0"},
{"offset":0.4180,"color":"#fff0"},{"offset":0.4195,"color":"#fffa"},{"offset":0.4210,"color":"#fff0"},
{"offset":0.4318,"color":"#fff0"},{"offset":0.4333,"color":"#fffa"},{"offset":0.4348,"color":"#fff0"},
{"offset":0.4455,"color":"#fff0"},{"offset":0.4470,"color":"#fffa"},{"offset":0.4485,"color":"#fff0"},
{"offset":0.4593,"color":"#fff0"},{"offset":0.4608,"color":"#fffa"},{"offset":0.4623,"color":"#fff0"},
{"offset":0.4731,"color":"#fff0"},{"offset":0.4746,"color":"#fffa"},{"offset":0.4761,"color":"#fff0"},
{"offset":0.4868,"color":"#fff0"},{"offset":0.4883,"color":"#fffa"},{"offset":0.4898,"color":"#fff0"},
{"offset":0.5006,"color":"#fff0"},{"offset":0.5021,"color":"#fffa"},{"offset":0.5036,"color":"#fff0"},
{"offset":0.5143,"color":"#fff0"},{"offset":0.5158,"color":"#fffa"},{"offset":0.5173,"color":"#fff0"},
{"offset":0.5281,"color":"#fff0"},{"offset":0.5296,"color":"#fffa"},{"offset":0.5311,"color":"#fff0"},
{"offset":0.5418,"color":"#fff0"},{"offset":0.5433,"color":"#fffa"},{"offset":0.5448,"color":"#fff0"},
{"offset":0.5556,"color":"#fff0"},{"offset":0.5571,"color":"#fffa"},{"offset":0.5586,"color":"#fff0"},
{"offset":0.5693,"color":"#fff0"},{"offset":0.5708,"color":"#fffa"},{"offset":0.5723,"color":"#fff0"},
{"offset":0.5831,"color":"#fff0"},{"offset":0.5846,"color":"#fffa"},{"offset":0.5861,"color":"#fff0"},
{"offset":0.5969,"color":"#fff0"},{"offset":0.5984,"color":"#fffa"},{"offset":0.5999,"color":"#fff0"},
{"offset":0.6106,"color":"#fff0"},{"offset":0.6121,"color":"#fffa"},{"offset":0.6136,"color":"#fff0"},
{"offset":0.6244,"color":"#fff0"},{"offset":0.6259,"color":"#fffa"},{"offset":0.6274,"color":"#fff0"},
{"offset":0.6381,"color":"#fff0"},{"offset":0.6396,"color":"#fffa"},{"offset":0.6411,"color":"#fff0"},
{"offset":0.6519,"color":"#fff0"},{"offset":0.6534,"color":"#fffa"},{"offset":0.6549,"color":"#fff0"},
{"offset":0.6656,"color":"#fff0"},{"offset":0.6671,"color":"#fffa"},{"offset":0.6686,"color":"#fff0"},
{"offset":0.6794,"color":"#fff0"},{"offset":0.6809,"color":"#fffa"},{"offset":0.6824,"color":"#fff0"},
{"offset":0.6931,"color":"#fff0"},{"offset":0.6946,"color":"#fffa"},{"offset":0.6961,"color":"#fff0"},
{"offset":0.7069,"color":"#fff0"},{"offset":0.7084,"color":"#fffa"},{"offset":0.7099,"color":"#fff0"},
{"offset":0.7206,"color":"#fff0"},{"offset":0.7221,"color":"#fffa"},{"offset":0.7236,"color":"#fff0"},
{"offset":0.7344,"color":"#fff0"},{"offset":0.7359,"color":"#fffa"},{"offset":0.7374,"color":"#fff0"},
{"offset":0.7482,"color":"#fff0"},{"offset":0.7497,"color":"#fffa"},{"offset":0.7512,"color":"#fff0"},
{"offset":0.7619,"color":"#fff0"},{"offset":0.7634,"color":"#fffa"},{"offset":0.7649,"color":"#fff0"},
{"offset":0.7757,"color":"#fff0"},{"offset":0.7772,"color":"#fffa"},{"offset":0.7787,"color":"#fff0"},
{"offset":0.7894,"color":"#fff0"},{"offset":0.7909,"color":"#fffa"},{"offset":0.7924,"color":"#fff0"},
{"offset":0.8032,"color":"#fff0"},{"offset":0.8047,"color":"#fffa"},{"offset":0.8062,"color":"#fff0"},
{"offset":0.8169,"color":"#fff0"},{"offset":0.8184,"color":"#fffa"},{"offset":0.8199,"color":"#fff0"},
{"offset":0.8307,"color":"#fff0"},{"offset":0.8322,"color":"#fffa"},{"offset":0.8337,"color":"#fff0"},
{"offset":0.8444,"color":"#fff0"},{"offset":0.8459,"color":"#fffa"},{"offset":0.8474,"color":"#fff0"},
{"offset":0.8582,"color":"#fff0"},{"offset":0.8597,"color":"#fffa"},{"offset":0.8612,"color":"#fff0"},
{"offset":0.8720,"color":"#fff0"},{"offset":0.8735,"color":"#fffa"},{"offset":0.8750,"color":"#fff0"},
{"offset":0.8857,"color":"#fff0"},{"offset":0.8872,"color":"#fffa"},{"offset":0.8887,"color":"#fff0"},
{"offset":0.8995,"color":"#fff0"},{"offset":0.9010,"color":"#fffa"},{"offset":0.9025,"color":"#fff0"},
{"offset":0.9132,"color":"#fff0"},{"offset":0.9147,"color":"#fffa"},{"offset":0.9162,"color":"#fff0"},
{"offset":0.9270,"color":"#fff0"},{"offset":0.9285,"color":"#fffa"},{"offset":0.9300,"color":"#fff0"},
{"offset":0.9407,"color":"#fff0"},{"offset":0.9422,"color":"#fffa"},{"offset":0.9437,"color":"#fff0"},
{"offset":0.9545,"color":"#fff0"},{"offset":0.9560,"color":"#fffa"},{"offset":0.9575,"color":"#fff0"},
{"offset":0.9682,"color":"#fff0"},{"offset":0.9697,"color":"#fffa"},{"offset":0.9712,"color":"#fff0"},
{"offset":0.9820,"color":"#fff0"},{"offset":0.9835,"color":"#fffa"},{"offset":0.9850,"color":"#fff0"},
{"offset":0.9957,"color":"#fff0"},{"offset":0.9972,"color":"#fffa"},{"offset":0.9987,"color":"#fff0"}
     ]}},
    "encoding": {
     "x": {"field": "date", "type": "temporal"},
     "y": {"field": "exits", "type": "quantitative", "stack": null}
    }}
  ]},
  {"mark": {"type": "line", "strokeWidth": 2.8, "opacity": 1},
   "encoding": {
    "x": {"field": "date", "type": "temporal"},
    "y": {"field": "universe", "type": "quantitative", "scale": {"domain": [400, 1200], "nice": false, "zero": false}, "axis": {"orient": "left", "title": "Stocks in Universe", "format": "d", "values": [400, 500, 600, 700, 800, 900, 1000, 1100, 1200], "labelColor": "#1f77b4", "titleColor": "#1f77b4", "labelPadding": 4, "titlePadding": 8}},
    "color": {"datum": "Universe", "type": "nominal"}
   }}
 ],
 "resolve": {"scale": {"y": "independent"}}
},
{
 "width": 518, "height": 379,
 "layer": [
  {"mark": {"type": "area", "stroke": "white", "strokeWidth": 1, "opacity": 1},
   "encoding": {
    "x": {"field": "date", "type": "temporal", "scale": {"domain": ["2009-01-11", "2021-02-18"]}, "axis": {"values": ["2010-01-01", "2012-01-01", "2014-01-01", "2016-01-01", "2018-01-01", "2020-01-01"], "format": "%Y", "title": "Date", "labelPadding": 14, "titlePadding": 2}},
    "y": {"field": "universe", "type": "quantitative", "stack": null, "scale": {"domain": [-55, 1245], "nice": false, "zero": false}, "axis": {"title": "Stocks", "format": "d", "values": [0, 200, 400, 600, 800, 1000, 1200], "labelPadding": 14, "titlePadding": 8}},
    "fill": {"datum": "Total Universe", "type": "nominal", "scale": {"domain": ["Total Universe", "Covered"], "range": ["#000000", "#008000"]},
     "legend": {"title": null, "orient": "none", "legendX": 728, "legendY": 333, "direction": "horizontal", "columns": 2, "labelFontSize": 20.5, "symbolType": "M-1,-0.33H1V0.33H-1Z", "symbolSize": 1600, "labelOffset": 18, "columnPadding": 49, "padding": 8, "fillColor": "white", "strokeColor": "#cccccc", "cornerRadius": 4, "labelColor": "#262626", "symbolStrokeWidth": 0, "symbolOpacity": 1}}
   }},
  {"mark": {"type": "area", "strokeWidth": 0, "opacity": 1,
    "fill": {"gradient": "linear", "x1": 0, "y1": 0, "x2": 1.1302, "y2": 0.8207, "stops": [
{"offset":0.0087,"color":"#fff0"},{"offset":0.0098,"color":"#fff9"},{"offset":0.0109,"color":"#fff0"},
{"offset":0.0290,"color":"#fff0"},{"offset":0.0301,"color":"#fff9"},{"offset":0.0312,"color":"#fff0"},
{"offset":0.0493,"color":"#fff0"},{"offset":0.0504,"color":"#fff9"},{"offset":0.0515,"color":"#fff0"},
{"offset":0.0696,"color":"#fff0"},{"offset":0.0707,"color":"#fff9"},{"offset":0.0718,"color":"#fff0"},
{"offset":0.0899,"color":"#fff0"},{"offset":0.0910,"color":"#fff9"},{"offset":0.0921,"color":"#fff0"},
{"offset":0.1102,"color":"#fff0"},{"offset":0.1113,"color":"#fff9"},{"offset":0.1124,"color":"#fff0"},
{"offset":0.1305,"color":"#fff0"},{"offset":0.1316,"color":"#fff9"},{"offset":0.1327,"color":"#fff0"},
{"offset":0.1508,"color":"#fff0"},{"offset":0.1519,"color":"#fff9"},{"offset":0.1530,"color":"#fff0"},
{"offset":0.1711,"color":"#fff0"},{"offset":0.1722,"color":"#fff9"},{"offset":0.1733,"color":"#fff0"},
{"offset":0.1914,"color":"#fff0"},{"offset":0.1925,"color":"#fff9"},{"offset":0.1936,"color":"#fff0"},
{"offset":0.2117,"color":"#fff0"},{"offset":0.2128,"color":"#fff9"},{"offset":0.2139,"color":"#fff0"},
{"offset":0.2320,"color":"#fff0"},{"offset":0.2331,"color":"#fff9"},{"offset":0.2342,"color":"#fff0"},
{"offset":0.2523,"color":"#fff0"},{"offset":0.2534,"color":"#fff9"},{"offset":0.2545,"color":"#fff0"},
{"offset":0.2726,"color":"#fff0"},{"offset":0.2737,"color":"#fff9"},{"offset":0.2748,"color":"#fff0"},
{"offset":0.2929,"color":"#fff0"},{"offset":0.2940,"color":"#fff9"},{"offset":0.2951,"color":"#fff0"},
{"offset":0.3132,"color":"#fff0"},{"offset":0.3143,"color":"#fff9"},{"offset":0.3154,"color":"#fff0"},
{"offset":0.3335,"color":"#fff0"},{"offset":0.3346,"color":"#fff9"},{"offset":0.3357,"color":"#fff0"},
{"offset":0.3538,"color":"#fff0"},{"offset":0.3549,"color":"#fff9"},{"offset":0.3560,"color":"#fff0"},
{"offset":0.3741,"color":"#fff0"},{"offset":0.3752,"color":"#fff9"},{"offset":0.3763,"color":"#fff0"},
{"offset":0.3944,"color":"#fff0"},{"offset":0.3955,"color":"#fff9"},{"offset":0.3966,"color":"#fff0"},
{"offset":0.4146,"color":"#fff0"},{"offset":0.4157,"color":"#fff9"},{"offset":0.4168,"color":"#fff0"},
{"offset":0.4349,"color":"#fff0"},{"offset":0.4360,"color":"#fff9"},{"offset":0.4371,"color":"#fff0"},
{"offset":0.4552,"color":"#fff0"},{"offset":0.4563,"color":"#fff9"},{"offset":0.4574,"color":"#fff0"},
{"offset":0.4755,"color":"#fff0"},{"offset":0.4766,"color":"#fff9"},{"offset":0.4777,"color":"#fff0"},
{"offset":0.4958,"color":"#fff0"},{"offset":0.4969,"color":"#fff9"},{"offset":0.4980,"color":"#fff0"},
{"offset":0.5161,"color":"#fff0"},{"offset":0.5172,"color":"#fff9"},{"offset":0.5183,"color":"#fff0"},
{"offset":0.5364,"color":"#fff0"},{"offset":0.5375,"color":"#fff9"},{"offset":0.5386,"color":"#fff0"},
{"offset":0.5567,"color":"#fff0"},{"offset":0.5578,"color":"#fff9"},{"offset":0.5589,"color":"#fff0"},
{"offset":0.5770,"color":"#fff0"},{"offset":0.5781,"color":"#fff9"},{"offset":0.5792,"color":"#fff0"},
{"offset":0.5973,"color":"#fff0"},{"offset":0.5984,"color":"#fff9"},{"offset":0.5995,"color":"#fff0"},
{"offset":0.6176,"color":"#fff0"},{"offset":0.6187,"color":"#fff9"},{"offset":0.6198,"color":"#fff0"},
{"offset":0.6379,"color":"#fff0"},{"offset":0.6390,"color":"#fff9"},{"offset":0.6401,"color":"#fff0"},
{"offset":0.6582,"color":"#fff0"},{"offset":0.6593,"color":"#fff9"},{"offset":0.6604,"color":"#fff0"},
{"offset":0.6785,"color":"#fff0"},{"offset":0.6796,"color":"#fff9"},{"offset":0.6807,"color":"#fff0"},
{"offset":0.6988,"color":"#fff0"},{"offset":0.6999,"color":"#fff9"},{"offset":0.7010,"color":"#fff0"},
{"offset":0.7191,"color":"#fff0"},{"offset":0.7202,"color":"#fff9"},{"offset":0.7213,"color":"#fff0"},
{"offset":0.7394,"color":"#fff0"},{"offset":0.7405,"color":"#fff9"},{"offset":0.7416,"color":"#fff0"},
{"offset":0.7597,"color":"#fff0"},{"offset":0.7608,"color":"#fff9"},{"offset":0.7619,"color":"#fff0"},
{"offset":0.7800,"color":"#fff0"},{"offset":0.7811,"color":"#fff9"},{"offset":0.7822,"color":"#fff0"},
{"offset":0.8003,"color":"#fff0"},{"offset":0.8014,"color":"#fff9"},{"offset":0.8025,"color":"#fff0"},
{"offset":0.8205,"color":"#fff0"},{"offset":0.8216,"color":"#fff9"},{"offset":0.8227,"color":"#fff0"},
{"offset":0.8408,"color":"#fff0"},{"offset":0.8419,"color":"#fff9"},{"offset":0.8430,"color":"#fff0"},
{"offset":0.8611,"color":"#fff0"},{"offset":0.8622,"color":"#fff9"},{"offset":0.8633,"color":"#fff0"},
{"offset":0.8814,"color":"#fff0"},{"offset":0.8825,"color":"#fff9"},{"offset":0.8836,"color":"#fff0"},
{"offset":0.9017,"color":"#fff0"},{"offset":0.9028,"color":"#fff9"},{"offset":0.9039,"color":"#fff0"},
{"offset":0.9220,"color":"#fff0"},{"offset":0.9231,"color":"#fff9"},{"offset":0.9242,"color":"#fff0"},
{"offset":0.9423,"color":"#fff0"},{"offset":0.9434,"color":"#fff9"},{"offset":0.9445,"color":"#fff0"},
{"offset":0.9626,"color":"#fff0"},{"offset":0.9637,"color":"#fff9"},{"offset":0.9648,"color":"#fff0"},
{"offset":0.9829,"color":"#fff0"},{"offset":0.9840,"color":"#fff9"},{"offset":0.9851,"color":"#fff0"}
    ]}},
   "encoding": {
    "x": {"field": "date", "type": "temporal"},
    "y": {"field": "universe", "type": "quantitative", "stack": null}
   }},
  {"mark": {"type": "area", "strokeWidth": 0, "opacity": 1,
    "fill": {"gradient": "linear", "x1": 0, "y1": 1, "x2": 1.1302, "y2": 0.1793, "stops": [
{"offset":0.0087,"color":"#fff0"},{"offset":0.0098,"color":"#fff9"},{"offset":0.0109,"color":"#fff0"},
{"offset":0.0290,"color":"#fff0"},{"offset":0.0301,"color":"#fff9"},{"offset":0.0312,"color":"#fff0"},
{"offset":0.0493,"color":"#fff0"},{"offset":0.0504,"color":"#fff9"},{"offset":0.0515,"color":"#fff0"},
{"offset":0.0696,"color":"#fff0"},{"offset":0.0707,"color":"#fff9"},{"offset":0.0718,"color":"#fff0"},
{"offset":0.0899,"color":"#fff0"},{"offset":0.0910,"color":"#fff9"},{"offset":0.0921,"color":"#fff0"},
{"offset":0.1102,"color":"#fff0"},{"offset":0.1113,"color":"#fff9"},{"offset":0.1124,"color":"#fff0"},
{"offset":0.1305,"color":"#fff0"},{"offset":0.1316,"color":"#fff9"},{"offset":0.1327,"color":"#fff0"},
{"offset":0.1508,"color":"#fff0"},{"offset":0.1519,"color":"#fff9"},{"offset":0.1530,"color":"#fff0"},
{"offset":0.1711,"color":"#fff0"},{"offset":0.1722,"color":"#fff9"},{"offset":0.1733,"color":"#fff0"},
{"offset":0.1914,"color":"#fff0"},{"offset":0.1925,"color":"#fff9"},{"offset":0.1936,"color":"#fff0"},
{"offset":0.2117,"color":"#fff0"},{"offset":0.2128,"color":"#fff9"},{"offset":0.2139,"color":"#fff0"},
{"offset":0.2320,"color":"#fff0"},{"offset":0.2331,"color":"#fff9"},{"offset":0.2342,"color":"#fff0"},
{"offset":0.2523,"color":"#fff0"},{"offset":0.2534,"color":"#fff9"},{"offset":0.2545,"color":"#fff0"},
{"offset":0.2726,"color":"#fff0"},{"offset":0.2737,"color":"#fff9"},{"offset":0.2748,"color":"#fff0"},
{"offset":0.2929,"color":"#fff0"},{"offset":0.2940,"color":"#fff9"},{"offset":0.2951,"color":"#fff0"},
{"offset":0.3132,"color":"#fff0"},{"offset":0.3143,"color":"#fff9"},{"offset":0.3154,"color":"#fff0"},
{"offset":0.3335,"color":"#fff0"},{"offset":0.3346,"color":"#fff9"},{"offset":0.3357,"color":"#fff0"},
{"offset":0.3538,"color":"#fff0"},{"offset":0.3549,"color":"#fff9"},{"offset":0.3560,"color":"#fff0"},
{"offset":0.3741,"color":"#fff0"},{"offset":0.3752,"color":"#fff9"},{"offset":0.3763,"color":"#fff0"},
{"offset":0.3944,"color":"#fff0"},{"offset":0.3955,"color":"#fff9"},{"offset":0.3966,"color":"#fff0"},
{"offset":0.4146,"color":"#fff0"},{"offset":0.4157,"color":"#fff9"},{"offset":0.4168,"color":"#fff0"},
{"offset":0.4349,"color":"#fff0"},{"offset":0.4360,"color":"#fff9"},{"offset":0.4371,"color":"#fff0"},
{"offset":0.4552,"color":"#fff0"},{"offset":0.4563,"color":"#fff9"},{"offset":0.4574,"color":"#fff0"},
{"offset":0.4755,"color":"#fff0"},{"offset":0.4766,"color":"#fff9"},{"offset":0.4777,"color":"#fff0"},
{"offset":0.4958,"color":"#fff0"},{"offset":0.4969,"color":"#fff9"},{"offset":0.4980,"color":"#fff0"},
{"offset":0.5161,"color":"#fff0"},{"offset":0.5172,"color":"#fff9"},{"offset":0.5183,"color":"#fff0"},
{"offset":0.5364,"color":"#fff0"},{"offset":0.5375,"color":"#fff9"},{"offset":0.5386,"color":"#fff0"},
{"offset":0.5567,"color":"#fff0"},{"offset":0.5578,"color":"#fff9"},{"offset":0.5589,"color":"#fff0"},
{"offset":0.5770,"color":"#fff0"},{"offset":0.5781,"color":"#fff9"},{"offset":0.5792,"color":"#fff0"},
{"offset":0.5973,"color":"#fff0"},{"offset":0.5984,"color":"#fff9"},{"offset":0.5995,"color":"#fff0"},
{"offset":0.6176,"color":"#fff0"},{"offset":0.6187,"color":"#fff9"},{"offset":0.6198,"color":"#fff0"},
{"offset":0.6379,"color":"#fff0"},{"offset":0.6390,"color":"#fff9"},{"offset":0.6401,"color":"#fff0"},
{"offset":0.6582,"color":"#fff0"},{"offset":0.6593,"color":"#fff9"},{"offset":0.6604,"color":"#fff0"},
{"offset":0.6785,"color":"#fff0"},{"offset":0.6796,"color":"#fff9"},{"offset":0.6807,"color":"#fff0"},
{"offset":0.6988,"color":"#fff0"},{"offset":0.6999,"color":"#fff9"},{"offset":0.7010,"color":"#fff0"},
{"offset":0.7191,"color":"#fff0"},{"offset":0.7202,"color":"#fff9"},{"offset":0.7213,"color":"#fff0"},
{"offset":0.7394,"color":"#fff0"},{"offset":0.7405,"color":"#fff9"},{"offset":0.7416,"color":"#fff0"},
{"offset":0.7597,"color":"#fff0"},{"offset":0.7608,"color":"#fff9"},{"offset":0.7619,"color":"#fff0"},
{"offset":0.7800,"color":"#fff0"},{"offset":0.7811,"color":"#fff9"},{"offset":0.7822,"color":"#fff0"},
{"offset":0.8003,"color":"#fff0"},{"offset":0.8014,"color":"#fff9"},{"offset":0.8025,"color":"#fff0"},
{"offset":0.8205,"color":"#fff0"},{"offset":0.8216,"color":"#fff9"},{"offset":0.8227,"color":"#fff0"},
{"offset":0.8408,"color":"#fff0"},{"offset":0.8419,"color":"#fff9"},{"offset":0.8430,"color":"#fff0"},
{"offset":0.8611,"color":"#fff0"},{"offset":0.8622,"color":"#fff9"},{"offset":0.8633,"color":"#fff0"},
{"offset":0.8814,"color":"#fff0"},{"offset":0.8825,"color":"#fff9"},{"offset":0.8836,"color":"#fff0"},
{"offset":0.9017,"color":"#fff0"},{"offset":0.9028,"color":"#fff9"},{"offset":0.9039,"color":"#fff0"},
{"offset":0.9220,"color":"#fff0"},{"offset":0.9231,"color":"#fff9"},{"offset":0.9242,"color":"#fff0"},
{"offset":0.9423,"color":"#fff0"},{"offset":0.9434,"color":"#fff9"},{"offset":0.9445,"color":"#fff0"},
{"offset":0.9626,"color":"#fff0"},{"offset":0.9637,"color":"#fff9"},{"offset":0.9648,"color":"#fff0"},
{"offset":0.9829,"color":"#fff0"},{"offset":0.9840,"color":"#fff9"},{"offset":0.9851,"color":"#fff0"}
    ]}},
   "encoding": {
    "x": {"field": "date", "type": "temporal"},
    "y": {"field": "universe", "type": "quantitative", "stack": null}
   }},
  {"mark": {"type": "area", "stroke": "white", "strokeWidth": 1, "opacity": 1},
   "encoding": {
    "x": {"field": "date", "type": "temporal"},
    "y": {"field": "covered", "type": "quantitative", "stack": null},
    "fill": {"datum": "Covered", "type": "nominal"}
   }},
  {"mark": {"type": "area", "strokeWidth": 0, "opacity": 1,
    "fill": {"gradient": "linear", "x1": 0, "y1": 0, "x2": 1.1874, "y2": 0.6656, "stops": [
{"offset":0.0098,"color":"#fff0"},{"offset":0.0109,"color":"#fff9"},{"offset":0.0120,"color":"#fff0"},
{"offset":0.0322,"color":"#fff0"},{"offset":0.0333,"color":"#fff9"},{"offset":0.0344,"color":"#fff0"},
{"offset":0.0547,"color":"#fff0"},{"offset":0.0558,"color":"#fff9"},{"offset":0.0569,"color":"#fff0"},
{"offset":0.0771,"color":"#fff0"},{"offset":0.0782,"color":"#fff9"},{"offset":0.0793,"color":"#fff0"},
{"offset":0.0996,"color":"#fff0"},{"offset":0.1007,"color":"#fff9"},{"offset":0.1018,"color":"#fff0"},
{"offset":0.1220,"color":"#fff0"},{"offset":0.1231,"color":"#fff9"},{"offset":0.1242,"color":"#fff0"},
{"offset":0.1445,"color":"#fff0"},{"offset":0.1456,"color":"#fff9"},{"offset":0.1467,"color":"#fff0"},
{"offset":0.1669,"color":"#fff0"},{"offset":0.1680,"color":"#fff9"},{"offset":0.1691,"color":"#fff0"},
{"offset":0.1894,"color":"#fff0"},{"offset":0.1905,"color":"#fff9"},{"offset":0.1916,"color":"#fff0"},
{"offset":0.2118,"color":"#fff0"},{"offset":0.2129,"color":"#fff9"},{"offset":0.2140,"color":"#fff0"},
{"offset":0.2343,"color":"#fff0"},{"offset":0.2354,"color":"#fff9"},{"offset":0.2365,"color":"#fff0"},
{"offset":0.2567,"color":"#fff0"},{"offset":0.2578,"color":"#fff9"},{"offset":0.2589,"color":"#fff0"},
{"offset":0.2792,"color":"#fff0"},{"offset":0.2803,"color":"#fff9"},{"offset":0.2814,"color":"#fff0"},
{"offset":0.3016,"color":"#fff0"},{"offset":0.3027,"color":"#fff9"},{"offset":0.3038,"color":"#fff0"},
{"offset":0.3241,"color":"#fff0"},{"offset":0.3252,"color":"#fff9"},{"offset":0.3263,"color":"#fff0"},
{"offset":0.3465,"color":"#fff0"},{"offset":0.3476,"color":"#fff9"},{"offset":0.3487,"color":"#fff0"},
{"offset":0.3690,"color":"#fff0"},{"offset":0.3701,"color":"#fff9"},{"offset":0.3712,"color":"#fff0"},
{"offset":0.3914,"color":"#fff0"},{"offset":0.3925,"color":"#fff9"},{"offset":0.3936,"color":"#fff0"},
{"offset":0.4139,"color":"#fff0"},{"offset":0.4150,"color":"#fff9"},{"offset":0.4161,"color":"#fff0"},
{"offset":0.4363,"color":"#fff0"},{"offset":0.4374,"color":"#fff9"},{"offset":0.4385,"color":"#fff0"},
{"offset":0.4588,"color":"#fff0"},{"offset":0.4599,"color":"#fff9"},{"offset":0.4610,"color":"#fff0"},
{"offset":0.4812,"color":"#fff0"},{"offset":0.4823,"color":"#fff9"},{"offset":0.4834,"color":"#fff0"},
{"offset":0.5037,"color":"#fff0"},{"offset":0.5048,"color":"#fff9"},{"offset":0.5059,"color":"#fff0"},
{"offset":0.5261,"color":"#fff0"},{"offset":0.5272,"color":"#fff9"},{"offset":0.5283,"color":"#fff0"},
{"offset":0.5486,"color":"#fff0"},{"offset":0.5497,"color":"#fff9"},{"offset":0.5508,"color":"#fff0"},
{"offset":0.5710,"color":"#fff0"},{"offset":0.5721,"color":"#fff9"},{"offset":0.5732,"color":"#fff0"},
{"offset":0.5935,"color":"#fff0"},{"offset":0.5946,"color":"#fff9"},{"offset":0.5957,"color":"#fff0"},
{"offset":0.6159,"color":"#fff0"},{"offset":0.6170,"color":"#fff9"},{"offset":0.6181,"color":"#fff0"},
{"offset":0.6384,"color":"#fff0"},{"offset":0.6395,"color":"#fff9"},{"offset":0.6406,"color":"#fff0"},
{"offset":0.6608,"color":"#fff0"},{"offset":0.6619,"color":"#fff9"},{"offset":0.6630,"color":"#fff0"},
{"offset":0.6833,"color":"#fff0"},{"offset":0.6844,"color":"#fff9"},{"offset":0.6855,"color":"#fff0"},
{"offset":0.7057,"color":"#fff0"},{"offset":0.7068,"color":"#fff9"},{"offset":0.7079,"color":"#fff0"},
{"offset":0.7282,"color":"#fff0"},{"offset":0.7293,"color":"#fff9"},{"offset":0.7304,"color":"#fff0"},
{"offset":0.7506,"color":"#fff0"},{"offset":0.7517,"color":"#fff9"},{"offset":0.7528,"color":"#fff0"},
{"offset":0.7731,"color":"#fff0"},{"offset":0.7742,"color":"#fff9"},{"offset":0.7753,"color":"#fff0"},
{"offset":0.7955,"color":"#fff0"},{"offset":0.7966,"color":"#fff9"},{"offset":0.7977,"color":"#fff0"},
{"offset":0.8180,"color":"#fff0"},{"offset":0.8191,"color":"#fff9"},{"offset":0.8202,"color":"#fff0"},
{"offset":0.8404,"color":"#fff0"},{"offset":0.8415,"color":"#fff9"},{"offset":0.8426,"color":"#fff0"},
{"offset":0.8629,"color":"#fff0"},{"offset":0.8640,"color":"#fff9"},{"offset":0.8651,"color":"#fff0"},
{"offset":0.8853,"color":"#fff0"},{"offset":0.8864,"color":"#fff9"},{"offset":0.8875,"color":"#fff0"},
{"offset":0.9078,"color":"#fff0"},{"offset":0.9088,"color":"#fff9"},{"offset":0.9099,"color":"#fff0"},
{"offset":0.9302,"color":"#fff0"},{"offset":0.9313,"color":"#fff9"},{"offset":0.9324,"color":"#fff0"},
{"offset":0.9527,"color":"#fff0"},{"offset":0.9537,"color":"#fff9"},{"offset":0.9548,"color":"#fff0"},
{"offset":0.9751,"color":"#fff0"},{"offset":0.9762,"color":"#fff9"},{"offset":0.9773,"color":"#fff0"}
    ]}},
   "encoding": {
    "x": {"field": "date", "type": "temporal"},
    "y": {"field": "covered", "type": "quantitative", "stack": null}
   }}
 ]
}
],
"config": {
 "font": "Liberation Sans",
 "view": {"stroke": "#262626", "strokeWidth": 2.2},
 "axis": {"grid": false, "ticks": false, "domain": false, "labelFontSize": 20, "titleFontSize": 20, "labelColor": "#262626", "titleColor": "#262626", "titleFontWeight": "normal", "labelFont": "Liberation Sans", "titleFont": "Liberation Sans"},
 "legend": {"labelFont": "Liberation Sans"}
}
}
